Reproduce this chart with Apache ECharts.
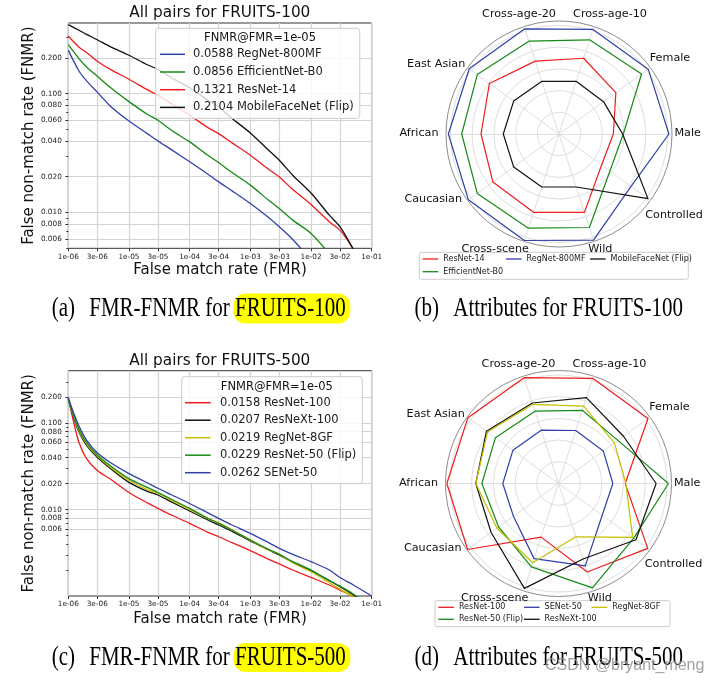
<!DOCTYPE html>
<html><head><meta charset="utf-8">
<script src="https://cdn.jsdelivr.net/npm/echarts@6/dist/echarts.min.js"></script>
<style>html,body{margin:0;padding:0;background:#fff}#c{width:718px;height:683px}</style>
</head><body><div id="c"></div>
<script>
// ================= DATA =================
const xTickValues = [1e-6,3e-6,1e-5,3e-5,1e-4,3e-4,1e-3,3e-3,1e-2,3e-2,1e-1];
const xTickLabels = ['1e-06','3e-06','1e-05','3e-05','1e-04','3e-04','1e-03','3e-03','1e-02','3e-02','1e-01'];
const yTickValues = [0.2,0.1,0.08,0.06,0.04,0.02,0.01,0.008,0.006];
const yTickLabels = ['0.200','0.100','0.080','0.060','0.040','0.020','0.010','0.008','0.006'];
const yMinorValues = [0.002,0.003,0.004,0.005,0.007,0.009,0.03,0.05,0.07,0.09,0.3];

// (a) FRUITS-100 FMR grid and FNMR curves
const fmrA = [1e-6,1.5e-6,2e-6,3e-6,5e-6,1e-5,2e-5,3e-5,5e-5,1e-4,2e-4,3e-4,5e-4,1e-3,2e-3,3e-3,5e-3,1e-2,2e-2,3e-2,5e-2,1e-1];
const aRegNet800MF   = [0.231,0.155,0.128,0.103,0.078,0.0588,0.0461,0.040,0.0338,0.0267,0.021,0.0181,0.0152,0.0119,0.00908,0.00758,0.00593,0.00398];
const aEfficientNetB0 = [0.258,0.197,0.1675,0.14,0.112,0.0856,0.067,0.0597,0.0492,0.0393,0.0303,0.0263,0.0217,0.017,0.0127,0.0108,0.00863,0.00667,0.0045];
const aResNet14      = [0.305,0.246,0.222,0.187,0.159,0.1321,0.108,0.0968,0.0824,0.0658,0.0518,0.0461,0.0385,0.0303,0.0231,0.0199,0.0156,0.0117,0.00835,0.0071,0.0049,0.0027];
const aMobileFaceNet = [0.380,0.341,0.315,0.284,0.247,0.2104,0.175,0.16,0.136,0.112,0.0879,0.0773,0.0617,0.0467,0.0334,0.0275,0.0206,0.0146,0.0095,0.0076,0.0049,0.0027];
const namesA = ['RegNet-800MF','EfficientNet-B0','ResNet-14','MobileFaceNet (Flip)'];
const fnmrAt1e5A = ['0.0588','0.0856','0.1321','0.2104'];

// (c) FRUITS-500
const fmrC = [1e-6,1.2e-6,1.5e-6,2e-6,3e-6,5e-6,1e-5,2e-5,3e-5,5e-5,1e-4,2e-4,3e-4,5e-4,1e-3,2e-3,3e-3,5e-3,1e-2,2e-2,3e-2,5e-2,1e-1];
const cResNet100  = [0.195,0.11,0.06,0.039,0.0285,0.0225,0.0158,0.012,0.01035,0.00867,0.00695,0.00546,0.00486,0.00415,0.00335,0.00266,0.00235,0.002,0.00164,0.00134,0.00117,0.00098,0.0007];
const cResNeXt100 = [0.19,0.1216,0.0794,0.0556,0.0404,0.0298,0.0207,0.0163,0.0148,0.0123,0.00966,0.00759,0.00664,0.00561,0.00434,0.00341,0.00299,0.00245,0.00196,0.00151,0.00128,0.00103,0.00075];
const cRegNet8GF  = [0.19,0.125,0.0822,0.0576,0.0419,0.0309,0.0219,0.0171,0.0155,0.0128,0.0101,0.00787,0.00708,0.00581,0.00442,0.00341,0.00304,0.00243,0.00191,0.00143,0.0012,0.00098,0.00072];
const cResNet50F  = [0.19,0.128,0.0853,0.0597,0.043,0.0321,0.0229,0.0181,0.0158,0.0132,0.01035,0.00794,0.00695,0.00581,0.00445,0.00347,0.00304,0.0025,0.002,0.00151,0.0013,0.00105,0.00075];
const cSENet50    = [0.2,0.137,0.0932,0.0641,0.0457,0.035,0.0262,0.0205,0.0177,0.0149,0.0118,0.0092,0.00794,0.00664,0.00532,0.00415,0.00357,0.00304,0.0025,0.002,0.00164,0.00134,0.001];
const namesC = ['ResNet-100','ResNeXt-100','RegNet-8GF','ResNet-50 (Flip)','SENet-50'];
const fnmrAt1e5C = ['0.0158','0.0207','0.0219','0.0229','0.0262'];

// Radar attributes
const radarAxes = ['Male','Female','Cross-age-10','Cross-age-20','East Asian','African','Caucasian','Cross-scene','Wild','Controlled'];
const bResNet14      = [0.481,0.622,0.705,0.678,0.761,0.69,0.723,0.729,0.729,0.466];
const bEfficientNetB0 = [0.569,0.903,0.876,0.864,0.894,0.861,0.894,0.876,0.870,0.557];
const bRegNet800MF   = [0.973,0.976,0.973,0.979,0.982,0.979,0.991,0.991,0.988,0.788];
const bMobileFaceNet = [0.563,0.487,0.49,0.49,0.496,0.493,0.496,0.493,0.493,0.973];
const namesB = ['ResNet-14','EfficientNet-B0','RegNet-800MF','MobileFaceNet (Flip)'];

const dResNet100  = [0.59,0.979,0.979,0.985,0.991,0.988,0.994,0.499,0.823,0.976];
const dResNet50F  = [0.973,0.649,0.681,0.673,0.69,0.678,0.655,0.776,0.971,0.823];
const dSENet50    = [0.481,0.49,0.493,0.496,0.499,0.493,0.493,0.699,0.767,0.478];
const dResNeXt100 = [0.864,0.711,0.799,0.749,0.788,0.732,0.737,0.976,0.702,0.847];
const dRegNet8GF  = [0.596,0.611,0.72,0.737,0.776,0.732,0.673,0.737,0.496,0.811];
const namesD = ['ResNet-100','ResNet-50 (Flip)','SENet-50','ResNeXt-100','RegNet-8GF'];

// ================= STYLE =================
const RED='#f01c1c', GREEN='#178a17', BLUE='#3040a8', BLACK='#111111', YELLOW='#c4be00';
const colorOf = {'RegNet-800MF':BLUE,'EfficientNet-B0':GREEN,'ResNet-14':RED,'MobileFaceNet (Flip)':BLACK,
  'ResNet-100':RED,'ResNeXt-100':BLACK,'RegNet-8GF':YELLOW,'ResNet-50 (Flip)':GREEN,'SENet-50':BLUE};
const SANS = '"DejaVu Sans"';
const L = Math.log10;

function pairs(fmr, vals){ return vals.map((v,i)=>[L(fmr[i]), L(v)]); }
function labelFmt(vals, labels){
  return function(v){ for (let i=0;i<vals.length;i++){ if (Math.abs(L(vals[i])-v)<1e-6) return labels[i]; } return ''; };
}

function xAxisDef(gi){
  return {type:'value', gridIndex:gi, min:-6, max:-1,
    axisLine:{show:false},
    axisTick:{show:true, customValues:xTickValues.map(L), length:3, lineStyle:{color:'#333'}},
    axisLabel:{customValues:xTickValues.map(L), formatter:labelFmt(xTickValues,xTickLabels), fontSize:7.3, fontFamily:SANS, color:'#222', margin:5},
    splitLine:{show:true, lineStyle:{color:'#d4d4d4', width:1.2}},
    name:'False match rate (FMR)', nameLocation:'middle', nameGap: gi===0?14.5:16,
    nameTextStyle:{fontSize:15, fontFamily:SANS, color:'#111'}};
}
function yAxisDef(gi, min, max){
  return {type:'value', gridIndex:gi, min:min, max:max, position:'left',
    axisLine:{show:false},
    axisTick:{show:true, customValues:yTickValues.map(L), length:3, lineStyle:{color:'#333'}},
    axisLabel:{customValues:yTickValues.map(L), formatter:labelFmt(yTickValues,yTickLabels), fontSize:7.3, fontFamily:SANS, color:'#222', margin:6.5},
    splitLine:{show:true, lineStyle:{color:'#d4d4d4', width:1.2}},
    name:'False non-match rate (FNMR)', nameLocation:'middle', nameGap:30.5,
    nameTextStyle:{fontSize:15, fontFamily:SANS, color:'#111'}};
}
function yMinorDef(gi, min, max){
  return {type:'value', gridIndex:gi, min:min, max:max, position:'left',
    axisLine:{show:false}, axisLabel:{show:false}, splitLine:{show:false},
    axisTick:{show:true, customValues:yMinorValues.filter(v=>L(v)>=min && L(v)<=max).map(L), length:2, lineStyle:{color:'#333'}}};
}

const yMinA = L(0.005), yMaxA = -0.406, yMinC = -3, yMaxC = -0.39;

const series = [];
[aRegNet800MF,aEfficientNetB0,aResNet14,aMobileFaceNet].forEach((vals,i)=>{
  const n = namesA[i];
  series.push({type:'line', name:n, xAxisIndex:0, yAxisIndex:0, data:pairs(fmrA, vals),
    symbol:'none', smooth:0.3, color:colorOf[n], lineStyle:{width:1.3, color:colorOf[n]}, itemStyle:{color:colorOf[n]}});
});
[cResNet100,cResNeXt100,cRegNet8GF,cResNet50F,cSENet50].forEach((vals,i)=>{
  const n = namesC[i];
  series.push({type:'line', name:n, xAxisIndex:1, yAxisIndex:1, data:pairs(fmrC, vals),
    symbol:'none', smooth:0.3, color:colorOf[n], lineStyle:{width:1.3, color:colorOf[n]}, itemStyle:{color:colorOf[n]}});
});
function radarSeries(idx, names, valsList){
  return {type:'radar', radarIndex:idx, symbol:'none',
    data: valsList.map((v,i)=>({name:names[i], value:v,
      lineStyle:{color:colorOf[names[i]], width:1.2}, itemStyle:{color:colorOf[names[i]]}}))};
}
series.push(radarSeries(0, namesB, [bResNet14,bEfficientNetB0,bRegNet800MF,bMobileFaceNet]));
series.push(radarSeries(2, namesD, [dResNet100,dResNet50F,dSENet50,dResNeXt100,dRegNet8GF]));

const CB = [559,134], CD = [558.5,483.5];
function radarDefs(center){
  const ind = radarAxes.map(n=>({name:n, min:0, max:1}));
  return [
    {center:center, radius:113, startAngle:0, shape:'circle', splitNumber:1, indicator:ind,
     axisName:{show:false}, splitArea:{show:false}, axisTick:{show:false}, axisLabel:{show:false},
     splitLine:{lineStyle:{color:'#8c8c8c', width:1}}, axisLine:{lineStyle:{color:'#dedede', width:1}}},
    {center:center, radius:108.5, startAngle:0, shape:'circle', splitNumber:5, indicator:ind,
     axisName:{show:false}, splitArea:{show:false}, axisTick:{show:false}, axisLabel:{show:false},
     splitLine:{lineStyle:{color:'#dedede', width:1}}, axisLine:{show:false}}
  ];
}

const legendText = {fontSize:11.5, fontFamily:SANS, color:'#222', lineHeight:13, padding:[0,0,0,3]};
const legends = [
  {orient:'vertical', left:155.7, top:28.3, padding:[19.5,6,4.5,4.3], itemGap:4.7, itemWidth:25, itemHeight:1.5, icon:'rect',
   selectedMode:false, data:namesA, textStyle:legendText,
   formatter:n=>fnmrAt1e5A[namesA.indexOf(n)]+' '+n,
   backgroundColor:'rgba(255,255,255,0.8)', borderColor:'#cccccc', borderWidth:1, borderRadius:3},
  {orient:'vertical', left:181.7, top:376.7, padding:[19.5,6,4.5,3.3], itemGap:4.5, itemWidth:25.7, itemHeight:1.5, icon:'rect',
   selectedMode:false, data:namesC, textStyle:Object.assign({}, legendText, {padding:[0,0,0,4.3]}),
   formatter:n=>fnmrAt1e5C[namesC.indexOf(n)]+' '+n,
   backgroundColor:'rgba(255,255,255,0.8)', borderColor:'#cccccc', borderWidth:1, borderRadius:3}
];
const smallText = {fontSize:8, fontFamily:SANS, color:'#222', lineHeight:8.5};
function colLegend(left, top, gap, data){
  return {orient:'vertical', left:left, top:top, padding:0, itemGap:gap, itemWidth:15.6, itemHeight:1.3, icon:'rect',
    selectedMode:false, data:data, textStyle:smallText};
}
legends.push(colLegend(422.7, 254.75, 4.2, ['ResNet-14','EfficientNet-B0']));
legends.push(colLegend(506, 254.75, 4.2, ['RegNet-800MF']));
legends.push(colLegend(590, 254.75, 4.2, ['MobileFaceNet (Flip)']));
legends.push(colLegend(438.3, 603.05, 3.5, ['ResNet-100','ResNet-50 (Flip)']));
legends.push(colLegend(524, 603.05, 3.5, ['SENet-50','ResNeXt-100']));
legends.push(colLegend(591.7, 603.05, 3.5, ['RegNet-8GF']));

// ---- graphic texts (titles, radar labels, captions) ----
const G = [];
function txt(x, y, text, font, extra){
  G.push(Object.assign({type:'text', x:x, y:y, z:20, style:{text:text, font:font, fill:'#111', align:'center', verticalAlign:'middle'}}, extra||{}));
}
txt(219.8, 12.7, 'All pairs for FRUITS-100', '15.3px '+SANS);
txt(219.8, 360.7, 'All pairs for FRUITS-500', '15.3px '+SANS);
txt(260, 37.7, 'FNMR@FMR=1e-05', '11.5px '+SANS);
txt(276.8, 386.7, 'FNMR@FMR=1e-05', '11.5px '+SANS);
// label centre offsets from the radar centre, in radarAxes order
const labelOffsets = [[128.7,-0.7],[111,-76],[51,-119.5],[-40,-119.5],[-122.8,-69.5],[-140,-0.7],[-125.8,65],[-63.8,115],[41.3,115],[115,81]];
[CB, CD].forEach(c=>{
  radarAxes.forEach((n,i)=>txt(c[0]+labelOffsets[i][0], c[1]+labelOffsets[i][1], n, '11.2px '+SANS));
});
// legend frames for radar legends
G.push({type:'rect', z:1, shape:{x:419.3, y:252.3, width:269, height:27, r:2}, style:{fill:'rgba(255,255,255,0.8)', stroke:'#cccccc', lineWidth:1}});
G.push({type:'rect', z:1, shape:{x:435, y:600.7, width:235, height:26, r:2}, style:{fill:'rgba(255,255,255,0.8)', stroke:'#cccccc', lineWidth:1}});
// captions
const SERIF = '"Liberation Serif"';
const capFont = '27px '+SERIF, sx = 0.777;
function caption(y, tag, main, tagX, mainX){
  G.push({type:'text', x:tagX, y:y, z:20, scaleX:sx, style:{text:tag, font:capFont, fill:'#000', align:'left', verticalAlign:'middle'}});
  G.push({type:'text', x:mainX, y:y, z:20, scaleX:sx, style:{text:main, font:capFont, fill:'#000', align:'left', verticalAlign:'middle'}});
}
G.push({type:'rect', z:5, shape:{x:233.5, y:293.5, width:116.8, height:30, r:12}, style:{fill:'#ffff00'}});
G.push({type:'rect', z:5, shape:{x:233.5, y:643, width:116.8, height:29, r:12}, style:{fill:'#ffff00'}});
caption(308.5, '(a)', 'FMR-FNMR for FRUITS-100', 51.7, 89.3);
caption(308.5, '(b)', 'Attributes for FRUITS-100', 414.4, 453.3);
caption(657.5, '(c)', 'FMR-FNMR for FRUITS-500', 51.7, 89.3);
caption(657.5, '(d)', 'Attributes for FRUITS-500', 414.4, 453.3);
G.push({type:'text', x:545, y:666, z:30, style:{text:'CSDN @bryant_meng', font:'16px "Liberation Sans"', fill:'rgba(150,150,150,0.9)', align:'left', verticalAlign:'middle'}});

const option = {
  animation:false,
  backgroundColor:'#ffffff',
  textStyle:{fontFamily:SANS},
  grid:[
    {left:68.3, top:23, width:303.4, height:225.3, show:true, borderColor:'#333', borderWidth:1, backgroundColor:'transparent', outerBoundsMode:'none'},
    {left:68.3, top:370.7, width:303.4, height:225.3, show:true, borderColor:'#333', borderWidth:1, backgroundColor:'transparent', outerBoundsMode:'none'}
  ],
  xAxis:[xAxisDef(0), xAxisDef(1)],
  yAxis:[yAxisDef(0,yMinA,yMaxA), yAxisDef(1,yMinC,yMaxC), yMinorDef(0,yMinA,yMaxA), yMinorDef(1,yMinC,yMaxC)],
  radar: radarDefs(CB).concat(radarDefs(CD)),
  legend: legends,
  series: series,
  graphic: G
};
const chart = echarts.init(document.getElementById('c'));
chart.setOption(option);
</script>
</body></html>
